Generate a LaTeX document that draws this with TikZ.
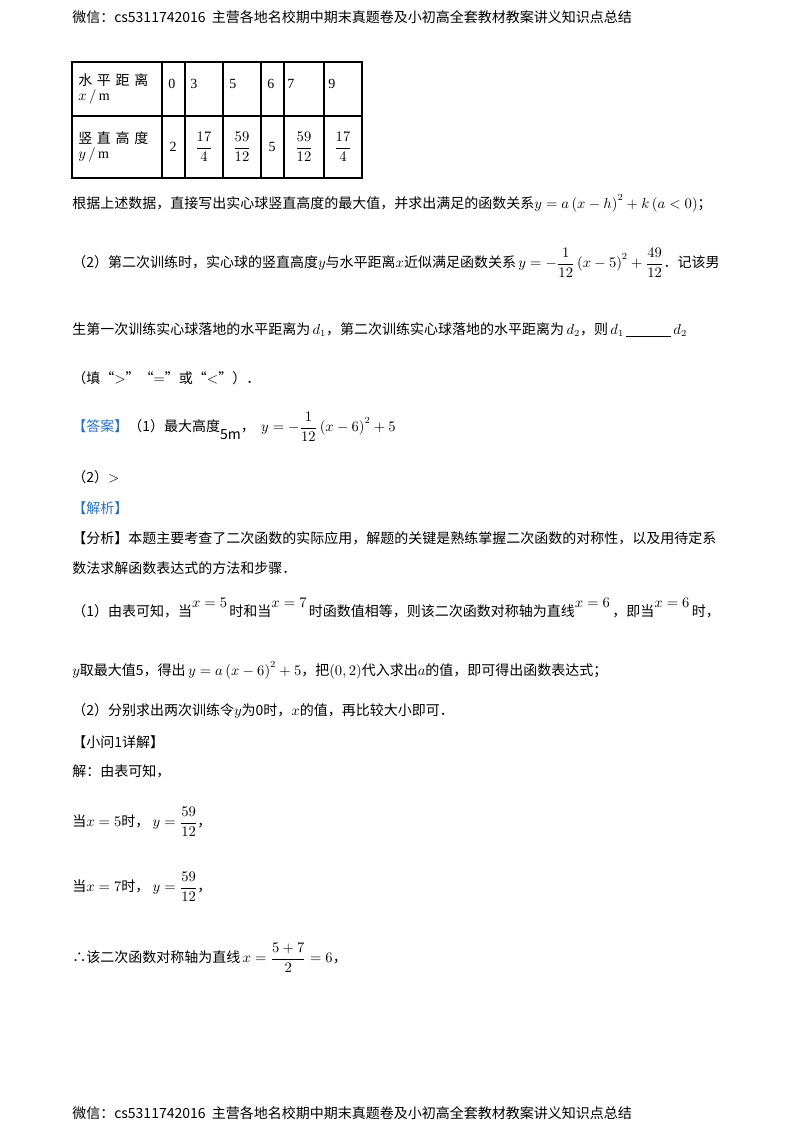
\documentclass[tikz,border=0pt]{standalone}
\usepackage{fontspec}
\usepackage{amsmath}
\setmainfont{Liberation Serif}
\newfontfamily\cjk{Noto Sans CJK SC}
\definecolor{ansblue}{RGB}{40,110,200}
\begin{document}
\begin{tikzpicture}[x=0.75pt,y=-0.75pt,
  tx/.style={anchor=west,inner sep=0pt,font=\fontsize{10.5}{12}\selectfont\cjk},
  cell/.style={inner sep=0pt,font=\fontsize{10.5}{12}\selectfont}]
\useasboundingbox (0,0) rectangle (800,1132);
\node[tx] (hd) at (72,17) {微信：cs5311742016\ \ 主营各地名校期中期末真题卷及小初高全套教材教案讲义知识点总结};
% table
\draw[line width=0.8pt] (72,62) rectangle (362,178);
\draw[line width=0.8pt] (72,116) -- (362,116);
\foreach \x in {162,185,223,261,284,324} \draw[line width=0.8pt] (\x,62) -- (\x,178);
\node[tx,align=left] (r1) at (78,89) {水\,\,平\,\,距\,\,离\\[-1pt]$x\,/\,\mathrm{m}$};
\node[tx,align=left] (r2) at (78,147) {竖\,\,直\,\,高\,\,度\\[-1pt]$y\,/\,\mathrm{m}$};
\foreach \x/\v in {173/0,195/3,234/5,272/6,292/7,333/9} \node[cell,anchor=west] at (\x-5,84) {\v};
\node[cell] at (173,147) {2};
\node[cell] at (204,147) {$\dfrac{17}{4}$};
\node[cell] at (242,147) {$\dfrac{59}{12}$};
\node[cell] at (272,147) {5};
\node[cell] at (304,147) {$\dfrac{59}{12}$};
\node[cell] at (343,147) {$\dfrac{17}{4}$};
% text
\node[tx] (l1) at (72,203) {根据上述数据，直接写出实心球竖直高度的最大值，并求出满足的函数关系$y=a\left(x-h\right)^2+k\left(a<0\right)$；};
\node[tx] (l2) at (72,263) {（2）第二次训练时，实心球的竖直高度$y$与水平距离$x$近似满足函数关系\,$y=-\dfrac{1}{12}\left(x-5\right)^2+\dfrac{49}{12}$．记该男};
\node[tx] (l3) at (72,330) {生第一次训练实心球落地的水平距离为\,$d_1$，第二次训练实心球落地的水平距离为\,$d_2$，则\,$d_1$\,\underline{\hspace{3.2em}}\,$d_2$};
\node[tx] (l4) at (72,378) {（填“$>$”“$=$”或“$<$”）．};
\node[tx] (l5) at (72,427) {{\color{ansblue}【答案】}（1）最大高度\raisebox{-1ex}{5m}，\ \ $y=-\dfrac{1}{12}\left(x-6\right)^2+5$};
\node[tx] (l6) at (72,477) {（2）$>$};
\node[tx] (l7) at (72,508) {\color{ansblue}【解析】};
\node[tx] (l8) at (72,538) {【分析】本题主要考查了二次函数的实际应用，解题的关键是熟练掌握二次函数的对称性，以及用待定系};
\node[tx] (l9) at (72,568) {数法求解函数表达式的方法和步骤．};
\node[tx] (l10) at (72,608) {（1）由表可知，当\raisebox{1.3ex}{$x=5$}\,时和当\raisebox{1.3ex}{$x=7$}\,时函数值相等，则该二次函数对称轴为直线\raisebox{1.3ex}{$x=6$}\,，即当\raisebox{1.3ex}{$x=6$}\,时，};
\node[tx] (l11) at (72,670) {$y$取最大值5，得出\,$y=a\left(x-6\right)^2+5$，把$\left(0,2\right)$代入求出$a$的值，即可得出函数表达式；};
\node[tx] (l12) at (72,711) {（2）分别求出两次训练令$y$为0时，$x$的值，再比较大小即可．};
\node[tx] (l13) at (72,742) {【小问1详解】};
\node[tx] (l14) at (72,771) {解：由表可知，};
\node[tx] (l15) at (72,822) {当$x=5$时，\ $y=\dfrac{59}{12}$，};
\node[tx] (l16) at (72,887) {当$x=7$时，\ $y=\dfrac{59}{12}$，};
\node[tx] (l17) at (72,958) {∴该二次函数对称轴为直线\,$x=\dfrac{5+7}{2}=6$，};
\node[tx] (ft) at (72,1113) {微信：cs5311742016\ \ 主营各地名校期中期末真题卷及小初高全套教材教案讲义知识点总结};
\end{tikzpicture}
\end{document}
